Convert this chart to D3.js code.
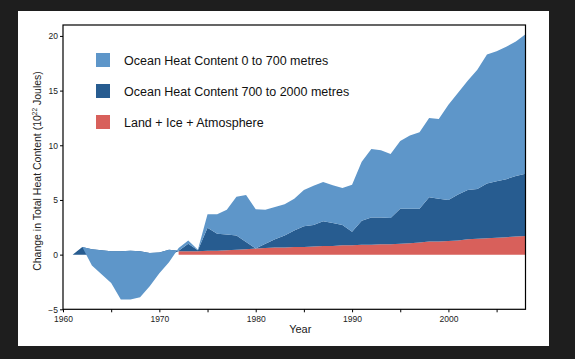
<!DOCTYPE html>
<html>
<head>
<meta charset="utf-8">
<script src="https://cdn.jsdelivr.net/npm/d3@7"></script>
<style>
  html, body { margin: 0; padding: 0; background: #1e1e1e; }
  svg { display: block; }
  text { font-family: "Liberation Sans", Arial, Helvetica, sans-serif; }
</style>
</head>
<body>
<svg id="chart" width="575" height="359"></svg>
<script>
// ---- Data (values in 10^22 Joules) ----
const years = [1961,1962,1963,1964,1965,1966,1967,1968,1969,1970,
  1971,1972,1973,1974,1975,1976,1977,1978,1979,1980,
  1981,1982,1983,1984,1985,1986,1987,1988,1989,1990,
  1991,1992,1993,1994,1995,1996,1997,1998,1999,2000,
  2001,2002,2003,2004,2005,2006,2007,2008];

// Land + Ice + Atmosphere (no data before 1972)
const landIceAtmos = [null,null,null,null,null,null,null,null,null,null,
  null,0.3,0.3,0.3,0.35,0.35,0.4,0.45,0.5,0.55,
  0.6,0.65,0.65,0.7,0.7,0.75,0.8,0.8,0.85,0.85,
  0.9,0.9,0.95,0.95,1.0,1.05,1.1,1.2,1.2,1.25,
  1.3,1.4,1.45,1.5,1.55,1.6,1.65,1.7];

// Ocean Heat Content 700 to 2000 metres
const ohc700to2000 = [0,0.7,0.5,0.4,0.3,0.3,0.35,0.3,0.15,0.2,
  0.45,0.05,0.7,0.1,2.1,1.55,1.45,1.3,0.65,0.0,
  0.4,0.75,1.1,1.5,1.9,1.95,2.25,2.1,1.85,1.25,
  2.2,2.5,2.45,2.4,3.2,3.15,3.1,4.05,3.9,3.75,
  4.2,4.5,4.55,5.0,5.15,5.3,5.55,5.7];

// Ocean Heat Content 0 to 700 metres
const ohc0to700 = [0,0,-1.5,-2.2,-2.9,-4.4,-4.45,-4.2,-3.05,-1.9,
  -1.15,0.25,0.3,0.05,1.25,1.8,2.25,3.55,4.3,3.6,
  3.1,2.95,2.85,2.9,3.3,3.6,3.6,3.45,3.4,4.3,
  5.4,6.25,6.15,5.85,6.2,6.7,7.0,7.25,7.3,8.7,
  9.3,10.0,10.9,11.8,11.9,12.1,12.3,12.75];

const seriesKeys = ["land", "deep", "upper"];
const seriesLabels = ["Ocean Heat Content 0 to 700 metres",
                      "Ocean Heat Content 700 to 2000 metres",
                      "Land + Ice + Atmosphere"];
const seriesColors = {upper: "#5e96c9", deep: "#275c90", land: "#d8605b"};
const legendKeys = ["upper", "deep", "land"];

const yTicks = [-5, 0, 5, 10, 15, 20];
const xTicks = [1960,1965,1970,1975,1980,1985,1990,1995,2000,2005];
const xLabelYears = [1960,1970,1980,1990,2000];

// ---- Build table ----
const table = years.map((yr, i) => ({
  year: yr,
  land: landIceAtmos[i],
  deep: ohc700to2000[i],
  upper: ohc0to700[i]
}));

const stack = d3.stack()
  .keys(seriesKeys)
  .value((d, k) => d[k] == null ? 0 : d[k])
  .order(d3.stackOrderNone)
  .offset(d3.stackOffsetNone);
const stacked = stack(table);

// ---- Layout ----
const svg = d3.select("#chart");
svg.append("rect").attr("x", 18).attr("y", 11).attr("width", 531).attr("height", 335)
  .attr("fill", "#ffffff");

const mLeft = 63, mRight = 525.5, mTop = 25, mBottom = 309.3;
const x = d3.scaleLinear().domain([1960, 2008]).range([mLeft, mRight]);
const y = d3.scaleLinear().domain([-5, 21]).range([mBottom, mTop]);

const g = svg.append("g");
// draw order: land, deep, upper (upper on top)
stacked.forEach(s => {
  const a = d3.area()
    .x(d => x(d.data.year))
    .y0(d => y(d[0]))
    .y1(d => y(d[1]))
    .defined(d => s.key !== "land" || d.data.land != null)
    .curve(d3.curveLinear);
  g.append("path")
    .datum(s)
    .attr("fill", seriesColors[s.key])
    .attr("d", a);
});

// frame
svg.append("rect")
  .attr("x", mLeft).attr("y", mTop)
  .attr("width", mRight - mLeft).attr("height", mBottom - mTop)
  .attr("fill", "none").attr("stroke", "#000").attr("stroke-width", 1.2);

// axes
const yAxis = d3.axisLeft(y).tickValues(yTicks).tickSize(3).tickPadding(2)
  .tickFormat(d3.format("d"));
const ya = svg.append("g").attr("transform", `translate(${mLeft},0)`).call(yAxis);
ya.select(".domain").remove();
ya.selectAll("text").attr("font-size", 8.5).attr("fill", "#222")
  .attr("font-family", "Liberation Sans, Arial, sans-serif");
ya.selectAll("line").attr("stroke", "#000");

const xAxis = d3.axisBottom(x).tickValues(xTicks).tickSize(3).tickPadding(4)
  .tickFormat(d => xLabelYears.includes(d) ? String(d) : "");
const xa = svg.append("g").attr("transform", `translate(0,${mBottom})`).call(xAxis);
xa.select(".domain").remove();
xa.selectAll("text").attr("font-size", 8.5).attr("fill", "#222")
  .attr("font-family", "Liberation Sans, Arial, sans-serif");
xa.selectAll("line").attr("stroke", "#000");

// axis titles
svg.append("text")
  .attr("x", (mLeft + mRight) / 2 + 6).attr("y", 333)
  .attr("text-anchor", "middle").attr("font-size", 11).attr("fill", "#222")
  .text("Year");

const yl = svg.append("text")
  .attr("transform", `translate(40.5,171) rotate(-90)`)
  .attr("text-anchor", "middle").attr("font-size", 10.5).attr("fill", "#222");
yl.append("tspan").text("Change in Total Heat Content (10");
yl.append("tspan").attr("font-size", 6.5).attr("dy", -4).text("22");
yl.append("tspan").attr("dy", 4).text(" Joules)");

// legend
const leg = svg.append("g");
legendKeys.forEach((k, i) => {
  const ly = 53 + i * 31;
  leg.append("rect").attr("x", 96).attr("y", ly).attr("width", 14).attr("height", 14)
    .attr("fill", seriesColors[k]);
  leg.append("text").attr("x", 124).attr("y", ly + 11.5)
    .attr("font-size", 12.5).attr("fill", "#111")
    .text(seriesLabels[i]);
});
</script>
</body>
</html>
